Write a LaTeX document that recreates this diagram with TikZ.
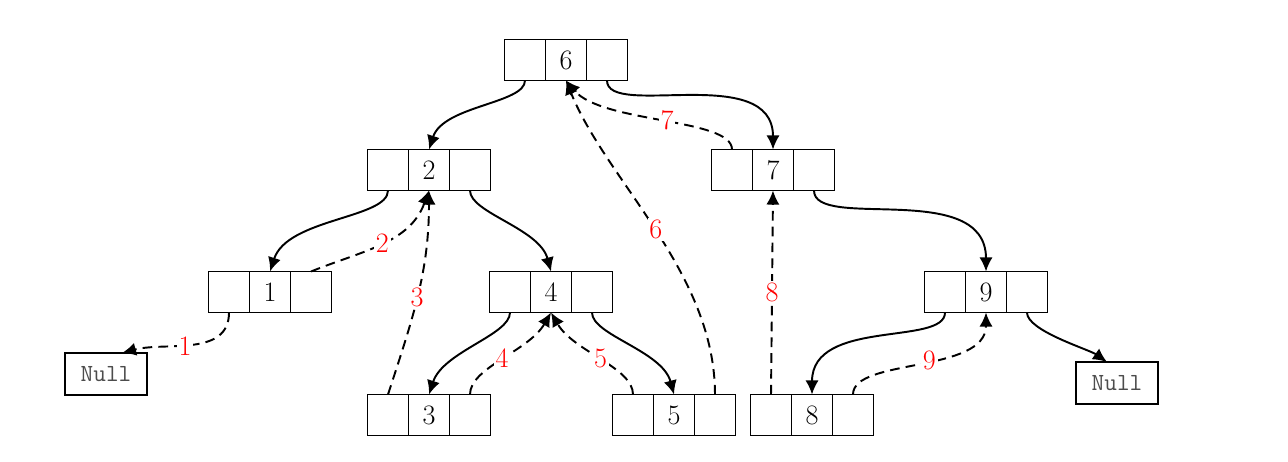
\documentclass[tikz,border=0pt]{standalone}
\usepackage{tikz}
\usetikzlibrary{arrows.meta,positioning}

% one tree node = three cells, value in the middle one
\newcommand{\bnode}[3]{%
  \node[cell] (#1) at (#2) {#3};
  \node[cell,left=0pt of #1] (#1l) {};
  \node[cell,right=0pt of #1] (#1r) {};
}

\begin{document}
\begin{tikzpicture}[x=0.02cm,y=-0.02cm,>={Latex[length=8pt,width=7.5pt]},line width=1.1pt,
  cell/.style={draw,minimum width=0.82cm,minimum height=0.82cm,inner sep=0pt,outer sep=0pt,
    font=\fontsize{16}{18}\selectfont},
  nullbox/.style={draw,minimum width=1.64cm,minimum height=0.84cm,inner sep=0pt,outer sep=0pt,
    text=black!70,font=\ttfamily\fontsize{14}{16}\selectfont},
  link/.style={->,out=-90,out looseness=0.5,in looseness=1},
  linkl/.style={link,in=72},
  linkr/.style={link,in=105},
  linkw/.style={link,in=90,out looseness=0.55,in looseness=1.25},
  thread/.style={->,dash pattern=on 5.5pt off 3.5pt},
  stepno/.style={text=red,fill=white,inner sep=1pt,font=\fontsize{16}{18}\selectfont}]
\useasboundingbox (0,0) rectangle (1288,462);

\bnode{n6}{566,60}{6}
\bnode{n2}{429,170}{2}
\bnode{n7}{773,170}{7}
\bnode{n1}{270,292}{1}
\bnode{n4}{551,292}{4}
\bnode{n9}{986,292}{9}
\bnode{n3}{429,415}{3}
\bnode{n5}{674,415}{5}
\bnode{n8}{812,415}{8}
\node[nullbox] (nl) at (106,374) {Null};
\node[nullbox] (nr) at (1117,383) {Null};

% child pointers
\draw[linkl] (n6l.south) to (n2.north);
\draw[linkw] (n6r.south) to (n7.north);
\draw[linkl] (n2l.south) to (n1.north);
\draw[linkr] (n2r.south) to (n4.north);
\draw[linkl] (n4l.south) to (n3.north);
\draw[linkr] (n4r.south) to (n5.north);
\draw[linkw] (n7r.south) to (n9.north);
\draw[linkw] (n9l.south) to (n8.north);
\draw[link,in=145,in looseness=0.6] (n9r.south) to ([xshift=-0.2cm]nr.north);

% threads, numbered in order
\draw[thread] (n1l.south) to[out=-90,in=15] node[stepno,pos=0.55]{1} ([xshift=0.32cm]nl.north);
\draw[thread] (n1r.north) to[out=22,in=-110] node[stepno,pos=0.5]{2} (n2.south);
\draw[thread] (n3l.north) to[out=72,in=-90] node[stepno,pos=0.48]{3} (n2.south);
\draw[thread] (n3r.north) to[out=90,in=-120,out looseness=0.6] node[stepno,pos=0.5]{4} (n4.south);
\draw[thread] (n5l.north) to[out=90,in=-60,out looseness=0.6] node[stepno,pos=0.5]{5} (n4.south);
\draw[thread] (n5r.north) to[out=90,in=-68,out looseness=0.9,in looseness=0.8] node[stepno,pos=0.5]{6} (n6.south);
\draw[thread] (n7l.north) to[out=90,in=-50,out looseness=0.45,in looseness=0.8] node[stepno,pos=0.48]{7} (n6.south);
\draw[thread] (n8l.north) -- node[stepno,pos=0.5]{8} (n7.south);
\draw[thread] (n8r.north) to[out=90,in=-90,out looseness=0.6] node[stepno,pos=0.55]{9} (n9.south);
\end{tikzpicture}
\end{document}
